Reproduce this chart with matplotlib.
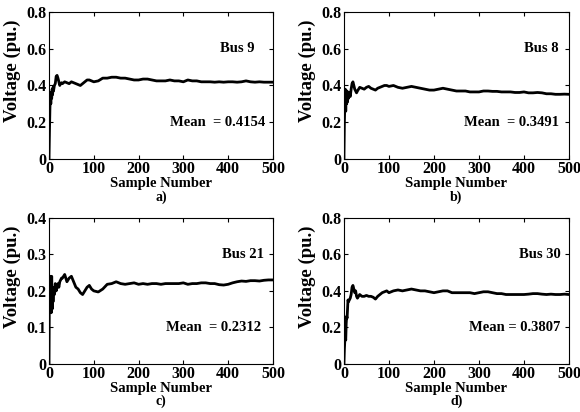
import numpy as np
import matplotlib.pyplot as plt

# Numery próbek (wspólne dla wszystkich wykresów)
samples = [0, 1, 2, 3, 4, 5, 6, 7, 8, 9, 10,
           12, 14, 16, 18, 20, 22, 24, 26, 28, 30,
           35, 40, 45, 50, 55, 60, 65, 70, 75, 80, 85, 90, 95, 100,
           110, 120, 130, 140, 150, 160, 170, 180, 190, 200,
           210, 220, 230, 240, 250, 260, 270, 280, 290, 300,
           310, 320, 330, 340, 350, 360, 370, 380, 390, 400,
           410, 420, 430, 440, 450, 460, 470, 480, 490, 500]

bus9 = [0.0, 0.15, 0.27, 0.36, 0.30, 0.36, 0.33, 0.38, 0.35, 0.39, 0.37,
        0.40, 0.41, 0.45, 0.455, 0.44, 0.42, 0.40, 0.41, 0.415, 0.41,
        0.42, 0.415, 0.41, 0.42, 0.415, 0.41, 0.405, 0.40, 0.41, 0.42, 0.43, 0.43, 0.425, 0.42,
        0.425, 0.44, 0.44, 0.445, 0.445, 0.44, 0.44, 0.435, 0.43, 0.43,
        0.435, 0.435, 0.43, 0.425, 0.425, 0.425, 0.43, 0.425, 0.425, 0.42,
        0.43, 0.425, 0.425, 0.42, 0.42, 0.42, 0.418, 0.42, 0.418, 0.42,
        0.42, 0.418, 0.42, 0.425, 0.42, 0.418, 0.42, 0.418, 0.418, 0.418]

bus8 = [0.0, 0.20, 0.30, 0.38, 0.26, 0.36, 0.30, 0.37, 0.31, 0.36, 0.33,
        0.36, 0.34, 0.38, 0.41, 0.42, 0.40, 0.38, 0.37, 0.36, 0.37,
        0.39, 0.385, 0.38, 0.39, 0.395, 0.385, 0.38, 0.375, 0.385, 0.39, 0.395, 0.40, 0.40, 0.395,
        0.40, 0.39, 0.385, 0.39, 0.395, 0.39, 0.385, 0.38, 0.375, 0.375,
        0.38, 0.385, 0.38, 0.375, 0.37, 0.37, 0.37, 0.365, 0.365, 0.365,
        0.37, 0.37, 0.368, 0.368, 0.365, 0.365, 0.365, 0.362, 0.362, 0.365,
        0.36, 0.36, 0.362, 0.36, 0.355, 0.355, 0.352, 0.352, 0.353, 0.352]

bus21 = [0.0, 0.24, 0.18, 0.24, 0.22, 0.14, 0.24, 0.15, 0.21, 0.17, 0.20,
         0.19, 0.22, 0.20, 0.21, 0.22, 0.21, 0.225, 0.23, 0.235, 0.235,
         0.245, 0.225, 0.235, 0.24, 0.225, 0.21, 0.205, 0.195, 0.19, 0.20, 0.21, 0.215, 0.205, 0.20,
         0.197, 0.205, 0.218, 0.22, 0.225, 0.22, 0.218, 0.22, 0.222, 0.218,
         0.22, 0.218, 0.22, 0.22, 0.218, 0.22, 0.22, 0.22, 0.22, 0.222,
         0.218, 0.22, 0.22, 0.222, 0.222, 0.22, 0.22, 0.217, 0.216, 0.218,
         0.222, 0.225, 0.227, 0.226, 0.228, 0.228, 0.227, 0.229, 0.23, 0.23]

bus30 = [0.0, 0.08, 0.13, 0.15, 0.13, 0.22, 0.26, 0.25, 0.30, 0.35, 0.34,
         0.35, 0.36, 0.38, 0.42, 0.43, 0.41, 0.39, 0.40, 0.37, 0.36,
         0.38, 0.37, 0.37, 0.375, 0.37, 0.37, 0.365, 0.355, 0.37, 0.38, 0.39, 0.395, 0.40, 0.39,
         0.40, 0.405, 0.40, 0.405, 0.41, 0.405, 0.40, 0.40, 0.395, 0.39,
         0.395, 0.40, 0.40, 0.39, 0.39, 0.39, 0.39, 0.39, 0.385, 0.39,
         0.395, 0.395, 0.39, 0.385, 0.385, 0.38, 0.38, 0.38, 0.38, 0.38,
         0.382, 0.385, 0.385, 0.382, 0.38, 0.382, 0.38, 0.38, 0.382, 0.38]

bus_names = ['Bus 9', 'Bus 8', 'Bus 21', 'Bus 30']
mean_labels = ['Mean  = 0.4154', 'Mean  = 0.3491', 'Mean  = 0.2312', 'Mean = 0.3807']
captions = ['a)', 'b)', 'c)', 'd)']
y_max = [0.8, 0.8, 0.4, 0.8]
y_ticks = [[0, 0.2, 0.4, 0.6, 0.8], [0, 0.2, 0.4, 0.6, 0.8],
           [0, 0.1, 0.2, 0.3, 0.4], [0, 0.2, 0.4, 0.6, 0.8]]
x_ticks = [0, 100, 200, 300, 400, 500]
series = [bus9, bus8, bus21, bus30]

plt.rcParams['font.family'] = 'Liberation Serif'
plt.rcParams['font.weight'] = 'bold'

fig = plt.figure(figsize=(5.8, 4.12), dpi=100)

# Położenia osi (lewo, dół, szerokość, wysokość)
positions = [[0.0845, 0.614, 0.386, 0.357],
             [0.593, 0.614, 0.388, 0.357],
             [0.0845, 0.117, 0.386, 0.354],
             [0.593, 0.117, 0.388, 0.354]]
text_x = [[460, 482], [478, 478], [481, 474], [481, 481]]

for i in range(4):
    ax = fig.add_axes(positions[i])
    ax.plot(samples, series[i], color='black', linewidth=2.0)
    ax.set_xlim(0, 500)
    ax.set_ylim(0, y_max[i])
    ax.set_xticks(x_ticks)
    ax.set_yticks(y_ticks[i])
    ax.set_yticklabels([('%g' % t) for t in y_ticks[i]])
    ax.tick_params(direction='in', length=3, width=0.8, top=True, right=True,
                   labelsize=11.5)
    ax.tick_params(axis='x', pad=1.5)
    ax.tick_params(axis='y', pad=2)
    for lab in ax.get_xticklabels() + ax.get_yticklabels():
        lab.set_fontweight('bold')
    for s in ax.spines.values():
        s.set_linewidth(0.8)
    ax.set_xlabel('Sample Number', fontsize=10.5, fontweight='bold')
    ax.xaxis.set_label_coords(0.5, -0.125)
    ax.set_ylabel('Voltage (pu.)', fontsize=13.5, fontweight='bold')
    ax.yaxis.set_label_coords(-0.125, 0.6)
    ax.text(text_x[i][0], 0.75 * y_max[i], bus_names[i], ha='right', va='center',
            fontsize=10.5, fontweight='bold')
    ax.text(text_x[i][1], 0.25 * y_max[i], mean_labels[i], ha='right', va='center',
            fontsize=10.5, fontweight='bold')
    ax.text(0.5, -0.26, captions[i], transform=ax.transAxes, ha='center', va='center',
            fontsize=10, fontweight='bold')

plt.savefig('out.png', dpi=100)
